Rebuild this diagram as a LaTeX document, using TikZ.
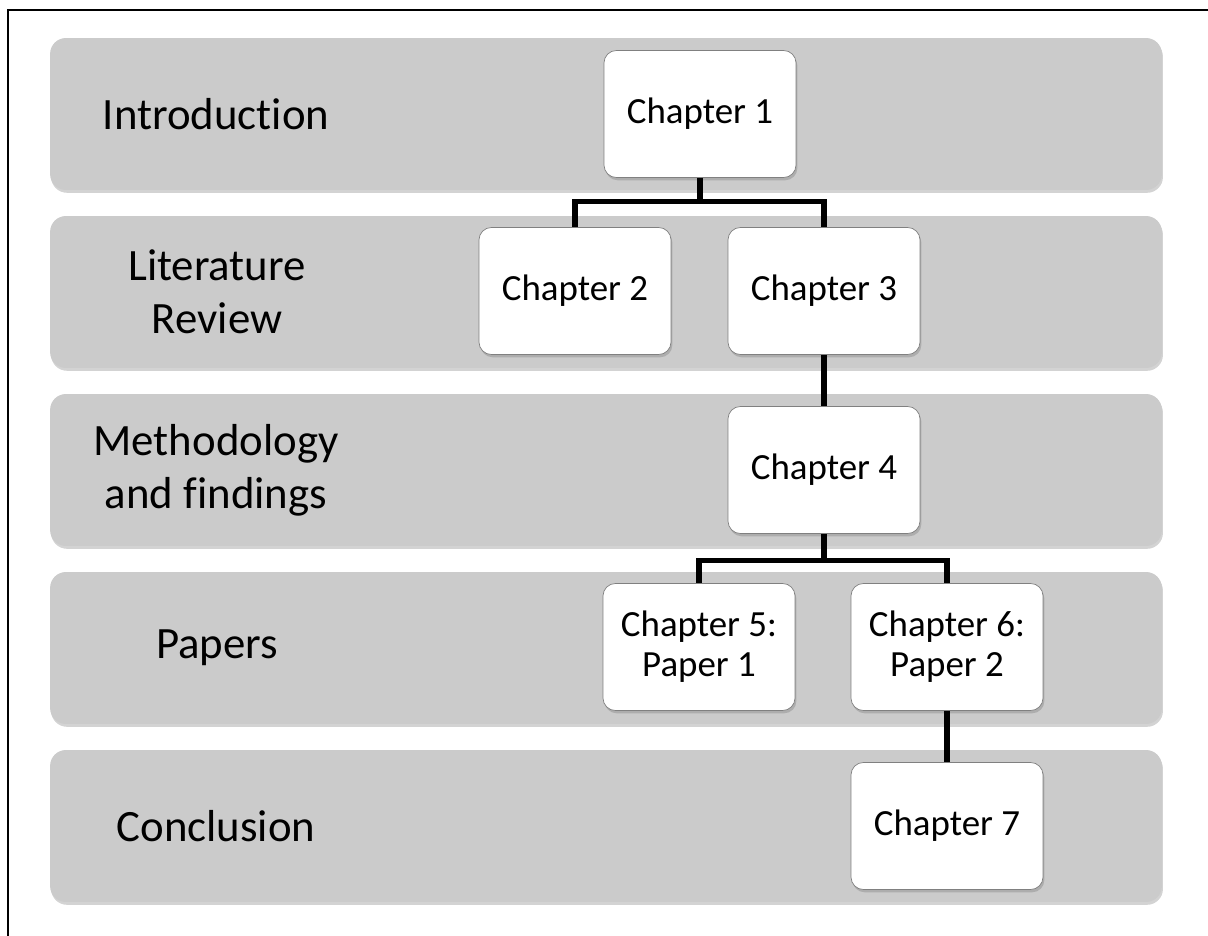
\documentclass[tikz,border=0pt]{standalone}
\usepackage{fontspec}
\setmainfont{Carlito}[Ligatures={NoCommon}]
\usetikzlibrary{shadows}
\definecolor{bandgray}{HTML}{CBCBCB}
\definecolor{boxedge}{HTML}{808080}

\begin{document}
\begin{tikzpicture}[
    x=0.02cm, y=-0.02cm,
    band/.style={rectangle, rounded corners=9pt, fill=bandgray,
                 minimum width=22.24cm, minimum height=3.04cm,
                 drop shadow={shadow xshift=0.6pt, shadow yshift=-1.6pt,
                              opacity=0.35}},
    phase/.style={align=center, inner sep=0pt,
                  font=\fontsize{25.5}{30}\selectfont},
    chapter/.style={rectangle, draw=boxedge, rounded corners=7pt,
                    minimum width=3.84cm, minimum height=2.54cm,
                    text centered, align=center, inner sep=0pt,
                    fill=white, font=\fontsize{21}{22.7}\selectfont,
                    drop shadow={shadow xshift=0.8pt, shadow yshift=-1.6pt,
                                 opacity=0.4}},
    link/.style={line width=3pt, black}
]
    \useasboundingbox (0,0) rectangle (1208,936);

    % Kader
    \draw[line width=1.1pt] (8,936) -- (8,10) -- (1208,10);

    % Banden
    \node[band] (bintro) at (606,114) {};
    \node[band] (blit)   at (606,292) {};
    \node[band] (bmeth)  at (606,470) {};
    \node[band] (bpap)   at (606,648) {};
    \node[band] (bconc)  at (606,826) {};

    % Fasen
    \node[phase] (intro) at (216,114) {Introduction};
    \node[phase] (lit)   at (217,292) {Literature\\Review};
    \node[phase] (meth)  at (216,470) {Methodology\\and findings};
    \node[phase] (pap)   at (217,648) {Papers};
    \node[phase] (conc)  at (216,826) {Conclusion};

    % Hoofdstukken
    \node[chapter] (c1) at (700,114) {Chapter 1};
    \node[chapter] (c2) at (575,291) {Chapter 2};
    \node[chapter] (c3) at (824,291) {Chapter 3};
    \node[chapter] (c4) at (824,470) {Chapter 4};
    \node[chapter] (c5) at (699,647) {Chapter 5:\\Paper 1};
    \node[chapter] (c6) at (947,647) {Chapter 6:\\Paper 2};
    \node[chapter] (c7) at (947,826) {Chapter 7};

    % Verbindingen
    \draw[link] (c1.south) -- ++(0,24) -| (c2.north);
    \draw[link] (c1.south) -- ++(0,24) -| (c3.north);
    \draw[link] (c3) -- (c4);
    \draw[link] (c4.south) -- ++(0,27) -| (c5.north);
    \draw[link] (c4.south) -- ++(0,27) -| (c6.north);
    \draw[link] (c6) -- (c7);

\end{tikzpicture}
\end{document}
